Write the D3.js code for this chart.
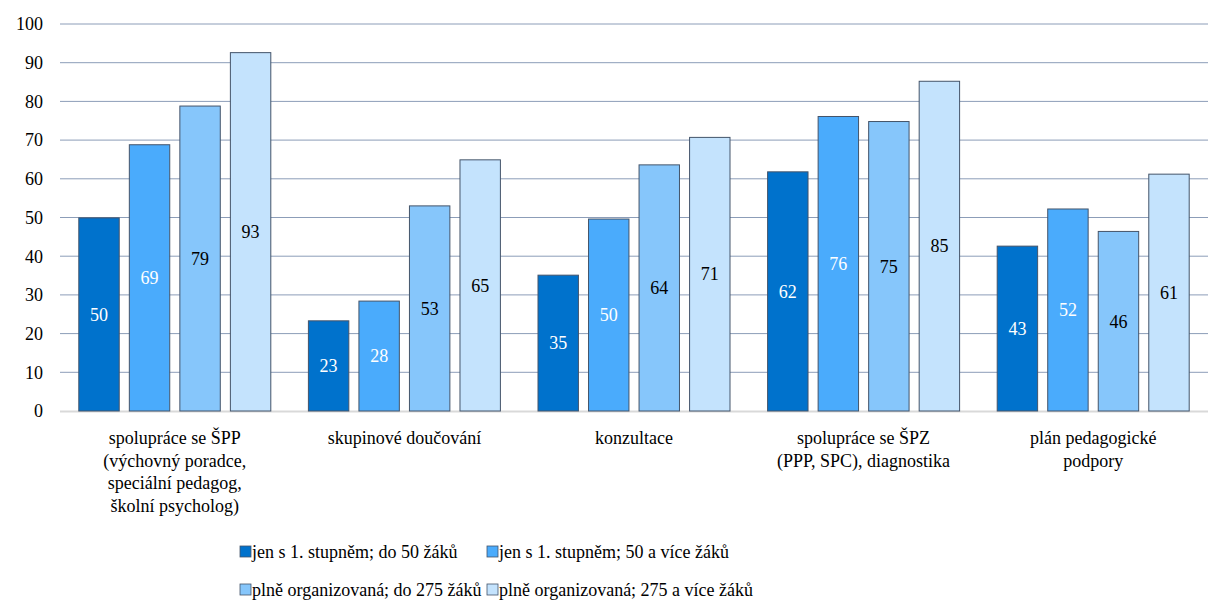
<!DOCTYPE html>
<html>
<head>
<meta charset="utf-8">
<script src="https://cdn.jsdelivr.net/npm/d3@7"></script>
</head>
<body style="margin:0; background:#fff">
<svg id="chart" width="1208" height="609"></svg>
<script>
var width = 1208, height = 609
var font = '"Liberation Serif", "Times New Roman", Tinos, serif'

// data
var categories = [
  ["spolupráce se ŠPP", "(výchovný poradce,", "speciální pedagog,", "školní psycholog)"],
  ["skupinové doučování"],
  ["konzultace"],
  ["spolupráce se ŠPZ", "(PPP, SPC), diagnostika"],
  ["plán pedagogické", "podpory"]
]
var seriesNames = [
  "jen s 1. stupněm; do 50 žáků",
  "jen s 1. stupněm; 50 a více žáků",
  "plně organizovaná; do 275 žáků",
  "plně organizovaná; 275 a více žáků"
]
var s1 = [49.9, 23.3, 35.1, 61.8, 42.6]
var s2 = [68.8, 28.4, 49.6, 76.1, 52.2]
var s3 = [78.8, 53.0, 63.6, 74.8, 46.4]
var s4 = [92.6, 64.9, 70.7, 85.2, 61.2]
var seriesValues = [s1, s2, s3, s4]
var yTicks = [0, 10, 20, 30, 40, 50, 60, 70, 80, 90, 100]

var colors = ["#0072CC", "#4AABFC", "#86C6FB", "#C4E3FD"]
var labelColors = ["#fff", "#fff", "#000", "#000"]

var margin = {left: 60, right: 0, top: 24, bottom: 198}
var groupWidth = 192
var svg = d3.select('svg#chart')

var x = d3.scaleBand()
    .domain(d3.range(categories.length))
    .range([margin.left, width - margin.right])

var y = d3.scaleLinear()
    .domain([0, 100])
    .range([height - margin.bottom, margin.top])

var xInner = d3.scaleBand()
    .domain(d3.range(seriesNames.length))
    .range([0, groupWidth])
    .paddingInner(0.2)

// gridlines
svg.append("g")
  .selectAll("line")
  .data(yTicks.filter(d => d > 0))
  .join("line")
    .attr("x1", margin.left)
    .attr("x2", width)
    .attr("y1", d => y(d))
    .attr("y2", d => y(d))
    .attr("stroke", "#8C9DB8")
    .attr("stroke-width", 1)

// baseline
svg.append("line")
    .attr("x1", margin.left)
    .attr("x2", width)
    .attr("y1", y(0) + 0.5)
    .attr("y2", y(0) + 0.5)
    .attr("stroke", "#D9D9D9")
    .attr("stroke-width", 2)

// y tick labels
svg.append("g")
  .selectAll("text")
  .data(yTicks)
  .join("text")
    .attr("x", 43)
    .attr("y", d => y(d))
    .attr("dy", "0.35em")
    .attr("text-anchor", "end")
    .style("font-family", font)
    .style("font-size", "18px")
    .text(d => d)

// bars
var groups = svg.append("g")
  .selectAll("g")
  .data(categories.map((c, i) => i))
  .join("g")
    .attr("transform", i => `translate(${x(i) + (x.bandwidth() - groupWidth) / 2},0)`)

groups.each(function(ci) {
  var g = d3.select(this)
  var data = seriesValues.map((s, si) => ({si: si, v: s[ci]}))

  g.selectAll("rect")
    .data(data)
    .join("rect")
      .attr("x", d => xInner(d.si))
      .attr("width", xInner.bandwidth())
      .attr("y", d => y(d.v))
      .attr("height", d => y(0) - y(d.v))
      .attr("fill", d => colors[d.si])
      .attr("stroke", "#44546A")
      .attr("stroke-width", 1)

  g.selectAll("text")
    .data(data)
    .join("text")
      .attr("x", d => xInner(d.si) + xInner.bandwidth() / 2)
      .attr("y", d => (y(d.v) + y(0)) / 2)
      .attr("dy", "0.35em")
      .attr("text-anchor", "middle")
      .attr("fill", d => labelColors[d.si])
      .style("font-family", font)
      .style("font-size", "18px")
      .text(d => Math.round(d.v))
})

// category labels
svg.append("g")
  .selectAll("text")
  .data(categories)
  .join("text")
    .attr("x", (d, i) => x(i) + x.bandwidth() / 2)
    .attr("y", 444)
    .attr("text-anchor", "middle")
    .style("font-family", font)
    .style("font-size", "18px")
    .each(function(lines) {
      d3.select(this).selectAll("tspan")
        .data(lines)
        .join("tspan")
          .attr("x", d3.select(this).attr("x"))
          .attr("dy", (d, j) => j === 0 ? 0 : 22.7)
          .text(d => d)
    })

// legend
var legendPos = [[240, 552], [487, 552], [240, 590], [487, 590]]
var legend = svg.append("g")
  .selectAll("g")
  .data(seriesNames)
  .join("g")
    .attr("transform", (d, i) => `translate(${legendPos[i][0]},${legendPos[i][1]})`)

legend.append("rect")
    .attr("x", 0)
    .attr("y", -6)
    .attr("width", 11)
    .attr("height", 11)
    .attr("fill", (d, i) => colors[i])
    .attr("stroke", "#44546A")
    .attr("stroke-width", 0.8)

legend.append("text")
    .attr("x", 12)
    .attr("y", 0)
    .attr("dy", "0.35em")
    .style("font-family", font)
    .style("font-size", "18px")
    .text(d => d)
</script>
</body>
</html>
